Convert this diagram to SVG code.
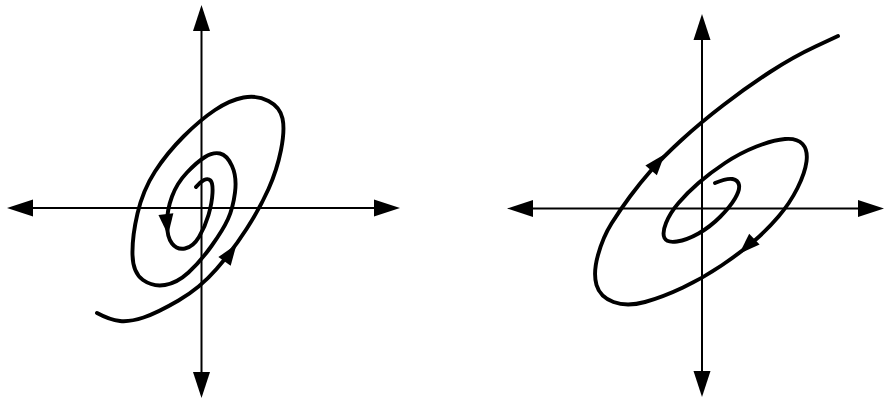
<svg xmlns="http://www.w3.org/2000/svg" xmlns:xlink="http://www.w3.org/1999/xlink" width="885" height="403" viewBox="0 0 885 403">
<style>
.axis{fill:none;stroke:#000;stroke-width:2}
.traj{fill:none;stroke:#000;stroke-width:3.9;stroke-linecap:round;stroke-linejoin:round}
.head{fill:#000;stroke:none}
</style>
<defs>
<path id="ah" class="head" d="M0,0 L-26,-8.5 L-26,8.5 Z"/>
<path id="ch" class="head" d="M1,0 L-20,-7.5 L-20,7.5 Z"/>
</defs>
<rect width="885" height="403" fill="#fff"/>
<g id="left-axes">
<line class="axis" x1="20" y1="208" x2="388" y2="208"/>
<line class="axis" x1="201.5" y1="18" x2="201.5" y2="386"/>
<use href="#ah" transform="translate(400,208)"/>
<use href="#ah" transform="translate(7,208) rotate(180)"/>
<use href="#ah" transform="translate(201.5,5) rotate(-90)"/>
<use href="#ah" transform="translate(201.5,398) rotate(90)"/>
</g>
<g id="left-spiral">
<path class="traj" d="M97,313 Q110,320 120,321 Q130,322 143.5,317.5 Q157,313 178.5,300.5 Q200,288 216.5,269 Q233,250 246.5,229 Q260,208 268.5,189 Q277,170 281,150 Q285,130 282.5,118.5 Q280,107 268.5,101 Q257,95 243.5,97.5 Q230,100 215,110 Q200,120 183.5,136.5 Q167,153 155,171.5 Q143,190 137.5,213.5 Q132,237 132.5,255 Q133,273 143,280 Q153,287 165,285 Q177,283 188.5,272.5 Q200,262 211.5,246 Q223,230 228,219 Q233,208 235,192.5 Q237,177 232,166 Q227,155 220,153.5 Q213,152 205,157 Q197,162 187,172.5 Q177,183 172,196.5 Q167,210 167,223.5 Q167,237 172,243.5 Q177,250 185,248.5 Q193,247 199,237 Q205,227 208.5,215 Q212,203 212.5,193 Q213,183 210.5,180.5 Q208,178 204,180 Q200,182 196,187"/>
<use href="#ch" transform="translate(236,245) rotate(-55)"/>
<use href="#ch" transform="translate(168,234) rotate(84)"/>
</g>
<g id="right-axes">
<line class="axis" x1="520" y1="208.5" x2="872" y2="208.5"/>
<line class="axis" x1="702" y1="28" x2="702" y2="385"/>
<use href="#ah" transform="translate(884,208.5)"/>
<use href="#ah" transform="translate(507,208.5) rotate(180)"/>
<use href="#ah" transform="translate(702,14) rotate(-90)"/>
<use href="#ah" transform="translate(702,397) rotate(90)"/>
</g>
<g id="right-spiral">
<path class="traj" d="M715,183 Q727,178 732.5,179 Q738,180 739,185 Q740,190 735,198.5 Q730,207 720,217 Q710,227 698.5,233.5 Q687,240 677,241.5 Q667,243 664.5,238 Q662,233 666,223 Q670,213 678.5,203 Q687,193 698.5,183 Q710,173 725,163 Q740,153 756.5,146.5 Q773,140 785,139 Q797,138 802.5,144 Q808,150 806.5,161.5 Q805,173 797.5,188 Q790,203 778.5,216.5 Q767,230 753.5,241.5 Q740,253 721.5,265.5 Q703,278 683,287.5 Q663,297 645,302 Q627,307 613.5,302 Q600,297 596.5,285 Q593,273 598,255 Q603,237 611.5,223.5 Q620,210 630,196.5 Q640,183 651,170.5 Q662,158 681,140.5 Q700,123 723.5,105 Q747,87 770,72 Q793,57 815.5,46.5 L838,36"/>
<use href="#ch" transform="translate(664,155) rotate(-50)"/>
<use href="#ch" transform="translate(740,253) rotate(136)"/>
</g>
</svg>
